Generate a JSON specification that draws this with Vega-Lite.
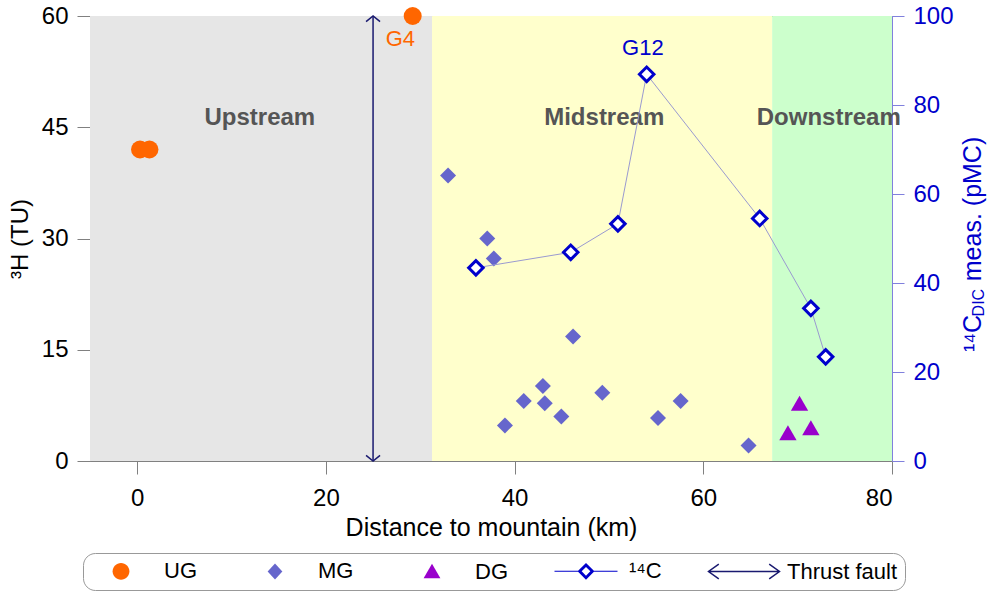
{
  "$schema": "https://vega.github.io/schema/vega-lite/v6.json",
  "width": 802,
  "height": 445,
  "autosize": {"type": "none"},
  "padding": {"left": 90, "top": 16, "right": 95, "bottom": 133},
  "background": "white",
  "config": {
    "font": "Liberation Sans",
    "view": {"stroke": "#808080", "strokeWidth": 1},
    "axis": {
      "grid": false,
      "labelFont": "Liberation Sans",
      "titleFont": "Liberation Sans",
      "labelFontSize": 24,
      "titleFontSize": 24,
      "titleFontWeight": "normal",
      "labelColor": "#000000",
      "titleColor": "#000000",
      "tickColor": "#808080",
      "domainColor": "#808080",
      "tickSize": 13,
      "zindex": 1
    }
  },
  "datasets": {
    "zones": [
      {"zone": "Upstream", "start": -5, "end": 31.25, "lkm": 13.0, "ltu": 46.2},
      {"zone": "Midstream", "start": 31.25, "end": 67.3, "lkm": 49.5, "ltu": 46.2},
      {"zone": "Downstream", "start": 67.3, "end": 80, "lkm": 73.3, "ltu": 46.2}
    ],
    "samples": [
      {"group": "UG", "km": 0.3, "tu": 42.0},
      {"group": "UG", "km": 1.3, "tu": 42.0},
      {"group": "UG", "km": 29.2, "tu": 60.0},
      {"group": "MG", "km": 32.95, "tu": 38.5},
      {"group": "MG", "km": 37.1, "tu": 30.0},
      {"group": "MG", "km": 37.8, "tu": 27.3},
      {"group": "MG", "km": 46.2, "tu": 16.8},
      {"group": "MG", "km": 43.0, "tu": 10.1},
      {"group": "MG", "km": 40.97, "tu": 8.1},
      {"group": "MG", "km": 43.2, "tu": 7.8},
      {"group": "MG", "km": 38.98, "tu": 4.8},
      {"group": "MG", "km": 44.95, "tu": 6.0},
      {"group": "MG", "km": 49.3, "tu": 9.2},
      {"group": "MG", "km": 55.2, "tu": 5.8},
      {"group": "MG", "km": 57.6, "tu": 8.1},
      {"group": "MG", "km": 64.8, "tu": 2.1},
      {"group": "DG", "km": 70.2, "tu": 7.8},
      {"group": "DG", "km": 68.97, "tu": 3.8},
      {"group": "DG", "km": 71.4, "tu": 4.5}
    ],
    "c14": [
      {"km": 35.9, "pmc": 43.4},
      {"km": 45.95, "pmc": 46.9},
      {"km": 50.95, "pmc": 53.3},
      {"km": 54.0, "pmc": 86.9},
      {"km": 65.98, "pmc": 54.5},
      {"km": 71.4, "pmc": 34.3},
      {"km": 72.97, "pmc": 23.4}
    ],
    "fault": [{"km": 25, "lo": 0, "hi": 60}],
    "tuLabels": [{"km": 27.9, "tu": 56.9, "label": "G4"}],
    "pmcLabels": [{"km": 53.6, "pmc": 92.7, "label": "G12"}],
    "one": [{"id": 1}]
  },
  "layer": [
    {
      "layer": [
        {
          "data": {"name": "zones"},
          "mark": {"type": "rect"},
          "encoding": {
            "x": {"field": "start", "type": "quantitative", "scale": {"domain": [-5, 80], "nice": false, "zero": false},
                  "axis": {"title": "Distance to mountain (km)", "values": [0, 20, 40, 60, 80], "labelPadding": 12, "titlePadding": 5, "labelFontSize": 24, "titleFontSize": 25}},
            "x2": {"field": "end"},
            "color": {"field": "zone", "type": "nominal", "legend": null,
                      "scale": {"domain": ["Upstream", "Midstream", "Downstream"], "range": ["#E6E6E6", "#FFFFCC", "#CCFFCC"]}}
          }
        },
        {
          "data": {"name": "zones"},
          "mark": {"type": "text", "fontSize": 24, "fontWeight": "bold", "color": "#555555", "align": "center", "baseline": "middle"},
          "encoding": {
            "x": {"field": "lkm", "type": "quantitative", "scale": {"domain": [-5, 80], "nice": false, "zero": false}},
            "y": {"field": "ltu", "type": "quantitative", "scale": {"domain": [0, 60], "nice": false, "zero": false},
                  "axis": {"title": "³H (TU)", "values": [0, 15, 30, 45, 60], "labelPadding": 9, "titlePadding": 9}},
            "text": {"field": "zone"}
          }
        },
        {
          "data": {"name": "fault"},
          "mark": {"type": "rule", "color": "#1A1A70", "strokeWidth": 1.5},
          "encoding": {
            "x": {"field": "km", "type": "quantitative", "scale": {"domain": [-5, 80], "nice": false, "zero": false}},
            "y": {"field": "lo", "type": "quantitative", "scale": {"domain": [0, 60], "nice": false, "zero": false}},
            "y2": {"field": "hi"}
          }
        },
        {
          "data": {"name": "fault"},
          "mark": {"type": "point", "shape": "M-1,0.8L0,0L1,0.8", "filled": false, "size": 196, "stroke": "#1A1A70", "strokeWidth": 1.5, "opacity": 1},
          "encoding": {
            "x": {"field": "km", "type": "quantitative", "scale": {"domain": [-5, 80], "nice": false, "zero": false}},
            "y": {"field": "hi", "type": "quantitative", "scale": {"domain": [0, 60], "nice": false, "zero": false}}
          }
        },
        {
          "data": {"name": "fault"},
          "mark": {"type": "point", "shape": "M-1,-0.8L0,0L1,-0.8", "filled": false, "size": 196, "stroke": "#1A1A70", "strokeWidth": 1.5, "opacity": 1},
          "encoding": {
            "x": {"field": "km", "type": "quantitative", "scale": {"domain": [-5, 80], "nice": false, "zero": false}},
            "y": {"field": "lo", "type": "quantitative", "scale": {"domain": [0, 60], "nice": false, "zero": false}}
          }
        },
        {
          "data": {"name": "samples"},
          "transform": [{"filter": "datum.group === 'MG'"}],
          "mark": {"type": "point", "shape": "diamond", "filled": true, "size": 256, "color": "#6666CC", "opacity": 1},
          "encoding": {
            "x": {"field": "km", "type": "quantitative", "scale": {"domain": [-5, 80], "nice": false, "zero": false}},
            "y": {"field": "tu", "type": "quantitative", "scale": {"domain": [0, 60], "nice": false, "zero": false}}
          }
        },
        {
          "data": {"name": "samples"},
          "transform": [{"filter": "datum.group === 'DG'"}],
          "mark": {"type": "point", "shape": "triangle-up", "filled": true, "size": 300, "color": "#9900CC", "opacity": 1},
          "encoding": {
            "x": {"field": "km", "type": "quantitative", "scale": {"domain": [-5, 80], "nice": false, "zero": false}},
            "y": {"field": "tu", "type": "quantitative", "scale": {"domain": [0, 60], "nice": false, "zero": false}}
          }
        },
        {
          "data": {"name": "samples"},
          "transform": [{"filter": "datum.group === 'UG'"}],
          "mark": {"type": "point", "shape": "circle", "filled": true, "size": 324, "color": "#FF6600", "opacity": 1, "clip": false},
          "encoding": {
            "x": {"field": "km", "type": "quantitative", "scale": {"domain": [-5, 80], "nice": false, "zero": false}},
            "y": {"field": "tu", "type": "quantitative", "scale": {"domain": [0, 60], "nice": false, "zero": false}}
          }
        },
        {
          "data": {"name": "tuLabels"},
          "mark": {"type": "text", "fontSize": 22, "color": "#FF6600", "align": "center", "baseline": "middle"},
          "encoding": {
            "x": {"field": "km", "type": "quantitative", "scale": {"domain": [-5, 80], "nice": false, "zero": false}},
            "y": {"field": "tu", "type": "quantitative", "scale": {"domain": [0, 60], "nice": false, "zero": false}},
            "text": {"field": "label"}
          }
        },
        {
          "data": {"values": []},
          "mark": {"type": "point", "filled": true, "size": 196, "strokeWidth": 1.5, "opacity": 1},
          "encoding": {
            "shape": {"field": "series", "type": "nominal",
              "scale": {"domain": ["UG", "MG", "DG", "¹⁴C", "Thrust fault"],
                        "range": [
                          "M-4.5,0M4.5,0M1.2,0A1.2 1.2 0 1 1 -1.2,0A1.2 1.2 0 1 1 1.2,0Z",
                          "M-4.5,0M4.5,0M0,-1.15L1.05,0L0,1.15L-1.05,0Z",
                          "M-4.5,0M4.5,0M0,-1.1L1.2,0.95L-1.2,0.95Z",
                          "M-4.5,0M4.5,0M-4.5,-0.07L-1.15,-0.07L-1.15,0.07L-4.5,0.07ZM1.15,-0.07L4.5,-0.07L4.5,0.07L1.15,0.07ZM0,-1.2L1.2,0L0,1.2L-1.2,0ZM0,-0.62L-0.62,0L0,0.62L0.62,0Z",
                          "M-5.07,0L5.07,0M-3.6,-1.05L-5.07,0L-3.6,1.05M3.6,-1.05L5.07,0L3.6,1.05"
                        ]},
              "legend": {
                "title": null,
                "orient": "none",
                "legendX": -7,
                "legendY": 537,
                "direction": "horizontal",
                "strokeColor": "#999999",
                "fillColor": "#FFFFFF",
                "cornerRadius": 12,
                "padding": 7,
                "symbolSize": 196,
                "symbolStrokeWidth": 1.5,
                "symbolFillColor": "#000000",
                "symbolStrokeColor": "#000000",
                "symbolOffset": 20,
                "labelFont": "Liberation Sans",
                "labelFontSize": 22,
                "labelColor": "#000000",
                "labelOffset": 32,
                "labelLimit": 400,
                "columnPadding": 43
              }},
            "fill": {"field": "series", "type": "nominal",
              "scale": {"domain": ["UG", "MG", "DG", "¹⁴C", "Thrust fault"],
                        "range": ["#FF6600", "#6666CC", "#9900CC", "#0000CC", "transparent"]}},
            "stroke": {"field": "series", "type": "nominal",
              "scale": {"domain": ["UG", "MG", "DG", "¹⁴C", "Thrust fault"],
                        "range": ["transparent", "transparent", "transparent", "transparent", "#1A1A70"]}}
          }
        }
      ]
    },
    {
      "layer": [
        {
          "data": {"name": "c14"},
          "mark": {"type": "line", "color": "#9A9AD0", "strokeWidth": 1},
          "encoding": {
            "x": {"field": "km", "type": "quantitative", "scale": {"domain": [-5, 80], "nice": false, "zero": false}},
            "y": {"field": "pmc", "type": "quantitative", "scale": {"domain": [0, 100], "nice": false, "zero": false},
                  "axis": {"orient": "right", "title": null, "values": [0, 20, 40, 60, 80, 100], "labelColor": "#0000CC",
                           "tickColor": "#8080DD", "domainColor": "#8080DD", "tickSize": 12, "labelPadding": 9}}
          }
        },
        {
          "data": {"name": "c14"},
          "mark": {"type": "point", "shape": "diamond", "filled": false, "fill": "#FFFFFF", "size": 210, "stroke": "#0000CC", "strokeWidth": 3, "opacity": 1},
          "encoding": {
            "x": {"field": "km", "type": "quantitative", "scale": {"domain": [-5, 80], "nice": false, "zero": false}},
            "y": {"field": "pmc", "type": "quantitative", "scale": {"domain": [0, 100], "nice": false, "zero": false}}
          }
        },
        {
          "data": {"name": "pmcLabels"},
          "mark": {"type": "text", "fontSize": 22, "color": "#0000CC", "align": "center", "baseline": "middle"},
          "encoding": {
            "x": {"field": "km", "type": "quantitative", "scale": {"domain": [-5, 80], "nice": false, "zero": false}},
            "y": {"field": "pmc", "type": "quantitative", "scale": {"domain": [0, 100], "nice": false, "zero": false}},
            "text": {"field": "label"}
          }
        },
        {
          "data": {"name": "one"},
          "mark": {"type": "text", "text": "¹⁴C", "angle": 270, "align": "left", "baseline": "alphabetic", "fontSize": 25, "color": "#0000CC"},
          "encoding": {
            "x": {"datum": 89.4, "type": "quantitative", "scale": {"domain": [-5, 80], "nice": false, "zero": false}},
            "y": {"datum": 24.5, "type": "quantitative", "scale": {"domain": [0, 100], "nice": false, "zero": false}}
          }
        },
        {
          "data": {"name": "one"},
          "mark": {"type": "text", "text": "DIC", "angle": 270, "align": "left", "baseline": "alphabetic", "fontSize": 16, "color": "#0000CC"},
          "encoding": {
            "x": {"datum": 89.8, "type": "quantitative", "scale": {"domain": [-5, 80], "nice": false, "zero": false}},
            "y": {"datum": 32.5, "type": "quantitative", "scale": {"domain": [0, 100], "nice": false, "zero": false}}
          }
        },
        {
          "data": {"name": "one"},
          "mark": {"type": "text", "text": "meas. (pMC)", "angle": 270, "align": "left", "baseline": "alphabetic", "fontSize": 25, "color": "#0000CC"},
          "encoding": {
            "x": {"datum": 89.4, "type": "quantitative", "scale": {"domain": [-5, 80], "nice": false, "zero": false}},
            "y": {"datum": 40.4, "type": "quantitative", "scale": {"domain": [0, 100], "nice": false, "zero": false}}
          }
        }
      ]
    }
  ],
  "resolve": {"scale": {"y": "independent"}}
}
